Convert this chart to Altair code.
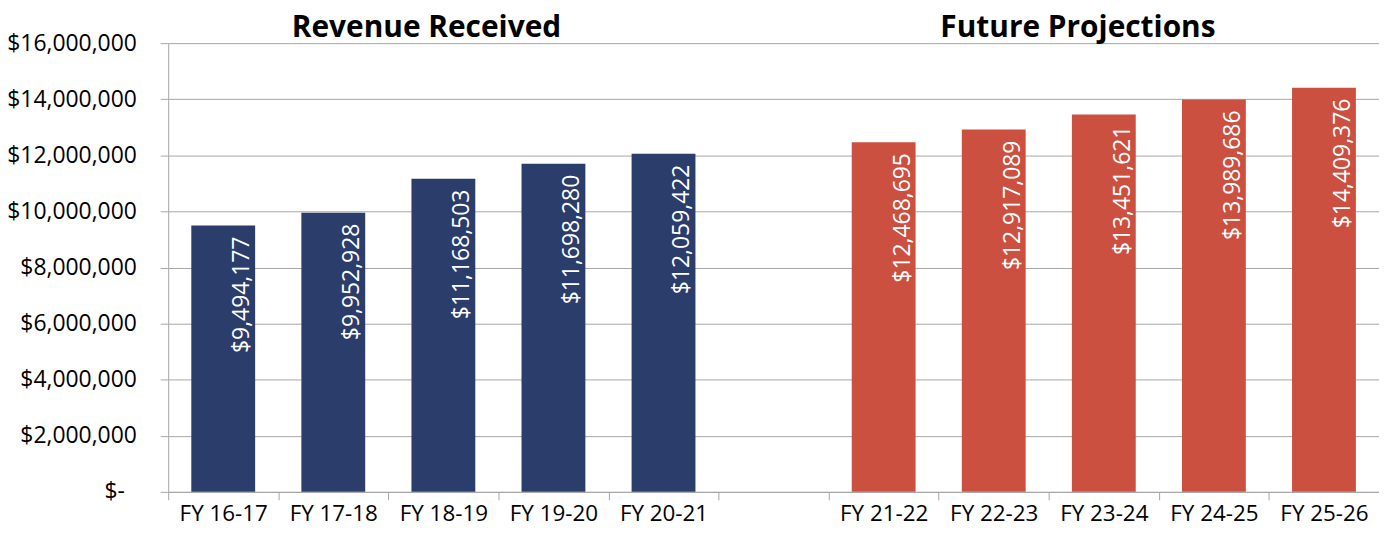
import altair as alt
import pandas as pd

categories = ["FY 16-17", "FY 17-18", "FY 18-19", "FY 19-20", "FY 20-21",
              "FY 21-22", "FY 22-23", "FY 23-24", "FY 24-25", "FY 25-26"]
values = [9494177, 9952928, 11168503, 11698280, 12059422,
          12468695, 12917089, 13451621, 13989686, 14409376]
groups = ["Revenue Received"] * 5 + ["Future Projections"] * 5
axis_domain = categories[:5] + [" "] + categories[5:]
y_ticks = [0, 2000000, 4000000, 6000000, 8000000, 10000000, 12000000, 14000000, 16000000]
group_names = ["Revenue Received", "Future Projections"]
group_colors = ["#2B3D6A", "#CC5040"]

df = pd.DataFrame({"cat": categories, "value": values, "group": groups})

FONT = "Open Sans"
GRID = "#A6A6A6"

x = alt.X("cat:N", sort=axis_domain,
          scale=alt.Scale(domain=axis_domain, paddingInner=0, paddingOuter=0),
          axis=alt.Axis(title=None, labelAngle=0, labelFont=FONT, labelFontSize=22.5,
                        labelColor="#000000", labelPadding=3, tickBand="extent",
                        ticks=True, tickSize=8, tickColor=GRID, domainColor=GRID,
                        grid=False))
y = alt.Y("value:Q",
          scale=alt.Scale(domain=[0, 16000000], nice=False),
          axis=alt.Axis(title=None, values=y_ticks, labelFont=FONT, labelFontSize=23,
                        labelColor="#000000", labelPadding=24, tickSize=8,
                        tickColor=GRID, domainColor=GRID, gridColor=GRID,
                        grid=True,
                        labelExpr="datum.value == 0 ? '$-\u00a0\u00a0\u200b' : '$' + format(datum.value, ',')"))

base = alt.Chart(df)

bars = base.mark_bar(width=alt.RelativeBandSize(0.58)).encode(
    x=x, y=y,
    color=alt.Color("group:N", scale=alt.Scale(domain=group_names, range=group_colors), legend=None),
)

labels = base.mark_text(angle=270, align="right", baseline="alphabetic", dx=-11, dy=26,
                        font=FONT, fontSize=23, color="#FFFFFF").encode(
    x=alt.X("cat:N", sort=axis_domain), y="value:Q",
    text=alt.Text("value:Q", format="$,.0f"),
)

t1 = alt.Chart(pd.DataFrame({"cat": ["FY 18-19"], "v": [16000000], "t": [group_names[0]]})).mark_text(
    font=FONT, fontSize=30, fontWeight="bold", color="#000000", baseline="alphabetic",
    align="center", dx=-17, dy=-6).encode(x=alt.X("cat:N", sort=axis_domain), y="v:Q", text="t:N")
t2 = alt.Chart(pd.DataFrame({"cat": ["FY 23-24"], "v": [16000000], "t": [group_names[1]]})).mark_text(
    font=FONT, fontSize=30, fontWeight="bold", color="#000000", baseline="alphabetic",
    align="center", dx=-26, dy=-6).encode(x=alt.X("cat:N", sort=axis_domain), y="v:Q", text="t:N")

chart = alt.layer(bars, labels, t1, t2).properties(
    width=1217, height=451,
    autosize=alt.AutoSizeParams(type="none"),
    padding={"left": 161, "top": 34, "right": 0, "bottom": 33},
).configure_view(stroke=None)

chart.save("out.html", embed_options={"renderer": "svg", "actions": False})
